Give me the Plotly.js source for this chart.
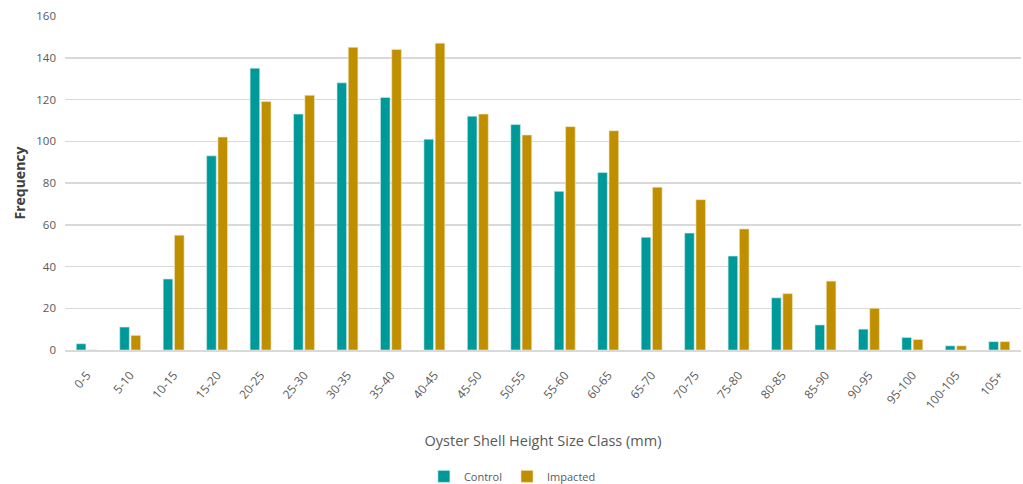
<!DOCTYPE html>
<html>
<head>
<meta charset="utf-8">
<script src="https://cdn.plot.ly/plotly-3.0.1.min.js"></script>
<style>
  html, body { margin: 0; padding: 0; background: #ffffff; }
  #chart { width: 1023px; height: 484px; }
</style>
</head>
<body>
<div id="chart"></div>
<script>
// Oyster shell height size classes (mm)
const sizeClasses = ["0-5", "5-10", "10-15", "15-20", "20-25", "25-30", "30-35", "35-40", "40-45", "45-50",
  "50-55", "55-60", "60-65", "65-70", "70-75", "75-80", "80-85", "85-90", "90-95", "95-100", "100-105", "105+"];

// Frequency per size class
const controlCounts = [3, 11, 34, 93, 135, 113, 128, 121, 101, 112, 108, 76, 85, 54, 56, 45, 25, 12, 10, 6, 2, 4];
const impactedCounts = [0, 7, 55, 102, 119, 122, 145, 144, 147, 113, 103, 107, 105, 78, 72, 58, 27, 33, 20, 5, 2, 4];

const yTicks = [0, 20, 40, 60, 80, 100, 120, 140, 160];

const textColor = "#595959";
const fontFamily = "'Open Sans', 'Liberation Sans', sans-serif";

const traces = [
  {
    type: "bar", name: "Control", x: sizeClasses, y: controlCounts,
    marker: { color: "#009999", line: { color: "#cdeeee", width: 0.6 } }
  },
  {
    type: "bar", name: "Impacted", x: sizeClasses, y: impactedCounts,
    marker: { color: "#bf8f00", line: { color: "#f3e6bf", width: 0.6 } }
  }
];

const layout = {
  width: 1023, height: 484,
  margin: { l: 65, r: 2, t: 16, b: 134, autoexpand: false },
  paper_bgcolor: "#ffffff", plot_bgcolor: "#ffffff",
  barmode: "group", bargap: 0.48, bargroupgap: 0.15,
  font: { family: fontFamily, color: textColor, size: 11 },
  showlegend: true,
  legend: {
    orientation: "h", x: 0.468, xanchor: "center", y: -0.335, yanchor: "top",
    font: { size: 11, color: textColor }, itemwidth: 30, tracegroupgap: 0
  },
  xaxis: {
    type: "category", tickangle: -50, showgrid: false, zeroline: false, automargin: false,
    showline: true, linecolor: "#d9d9d9", linewidth: 1.5, ticks: "", ticklabelstandoff: 12,
    tickfont: { size: 12, color: textColor },
    title: { text: "Oyster Shell Height Size Class (mm)", font: { size: 14.5, color: textColor }, standoff: 24 }
  },
  yaxis: {
    range: [0, 160], tickvals: yTicks, showgrid: true, gridcolor: "#d9d9d9", gridwidth: 1.5,
    zeroline: false, showline: false, ticks: "", ticklabelstandoff: 8, automargin: false,
    tickfont: { size: 11.5, color: textColor },
    title: { text: "<b>Frequency</b>", font: { size: 14, color: "#404040" }, standoff: 7 }
  }
};

Plotly.newPlot("chart", traces, layout, { displayModeBar: false, staticPlot: true });
</script>
</body>
</html>
